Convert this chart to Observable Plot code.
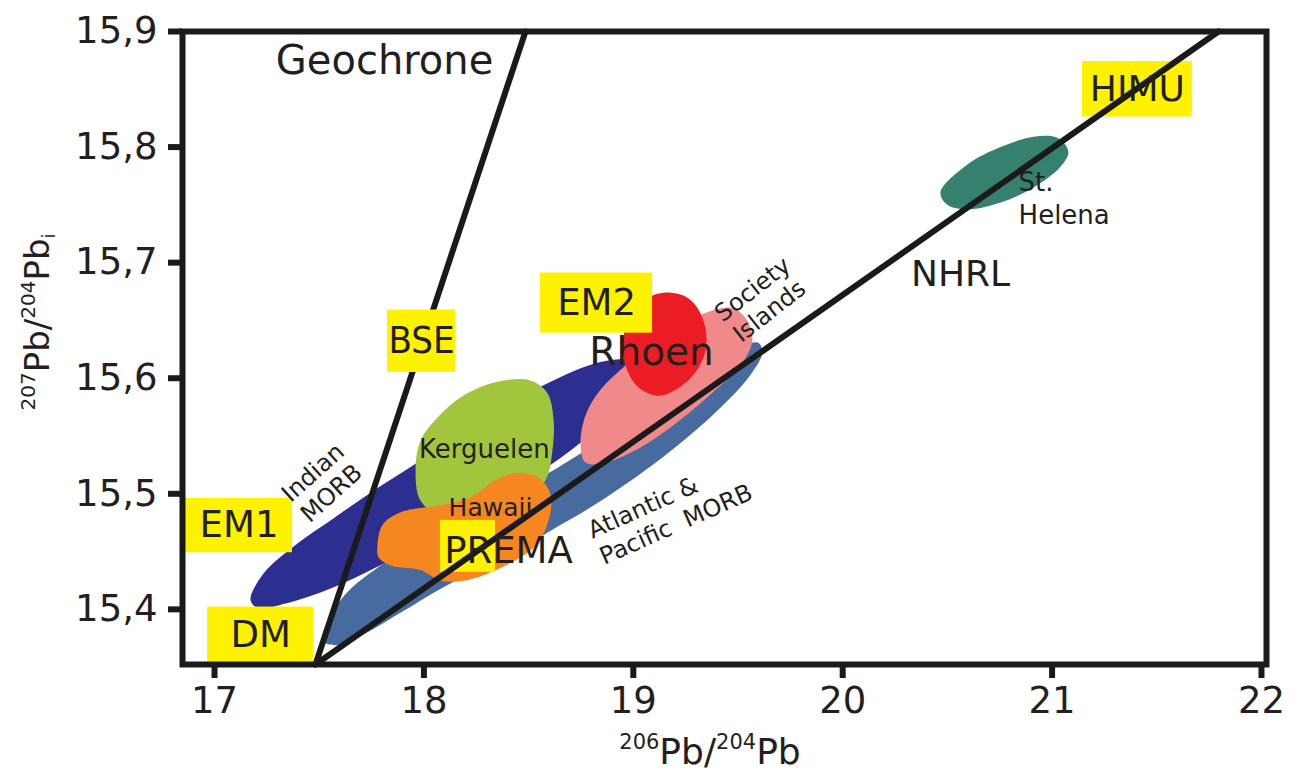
<!DOCTYPE html>
<html><head><meta charset="utf-8">
<script src="https://cdn.jsdelivr.net/npm/d3@7"></script>
<script src="https://cdn.jsdelivr.net/npm/@observablehq/plot@0.6"></script>
<style>body{margin:0;background:#fff;} #chart svg{display:block}</style>
</head><body><div id="chart"></div>
<script>
// ---- axis ticks ----
const xTicks = [17, 18, 19, 20, 21, 22];
const yTicks = [15.4, 15.5, 15.6, 15.7, 15.8, 15.9];

// ---- fields: outline points [206Pb/204Pb, 207Pb/204Pb] ----
const indianMORB = [[17.172,15.408],[17.234,15.431],[17.396,15.457],[17.554,15.477],[17.745,15.501],[17.969,15.527],[18.270,15.564],[18.571,15.594],[18.843,15.614],[19.011,15.616],[19.106,15.609],[19.082,15.594],[18.939,15.572],[18.652,15.531],[18.270,15.486],[17.888,15.447],[17.554,15.418],[17.339,15.405],[17.210,15.401]];
const atlanticPacificMORB = [[17.516,15.373],[17.602,15.408],[17.793,15.438],[18.127,15.473],[18.557,15.514],[18.843,15.546],[19.130,15.581],[19.416,15.616],[19.593,15.631],[19.617,15.623],[19.560,15.603],[19.402,15.572],[19.144,15.532],[18.829,15.492],[18.605,15.468],[18.366,15.442],[18.113,15.421],[17.888,15.397],[17.697,15.377],[17.578,15.369]];
const kerguelen = [[17.960,15.520],[17.984,15.546],[18.065,15.566],[18.189,15.585],[18.351,15.597],[18.509,15.598],[18.590,15.587],[18.619,15.564],[18.614,15.538],[18.581,15.512],[18.461,15.490],[18.270,15.481],[18.079,15.481],[17.984,15.494]];
const hawaii = [[17.778,15.455],[17.802,15.473],[17.888,15.484],[18.079,15.490],[18.223,15.497],[18.342,15.512],[18.437,15.518],[18.547,15.514],[18.605,15.499],[18.595,15.477],[18.533,15.455],[18.390,15.438],[18.199,15.425],[18.079,15.425],[17.984,15.434],[17.840,15.438],[17.783,15.445]];
const societyIslands = [[18.748,15.542],[18.772,15.568],[18.843,15.590],[18.963,15.611],[19.130,15.637],[19.321,15.655],[19.464,15.661],[19.536,15.652],[19.569,15.633],[19.512,15.611],[19.393,15.590],[19.225,15.564],[19.034,15.540],[18.867,15.527],[18.772,15.527]];
const rhoen = [[19.034,15.665],[19.144,15.674],[19.264,15.669],[19.335,15.650],[19.345,15.624],[19.273,15.600],[19.130,15.585],[19.025,15.592],[18.963,15.611],[18.953,15.637]];
const stHelena = [[20.467,15.761],[20.596,15.785],[20.754,15.800],[20.911,15.809],[21.026,15.808],[21.078,15.796],[21.040,15.783],[20.911,15.765],[20.754,15.752],[20.596,15.746],[20.500,15.750]];

// ---- reference lines ----
const geochrone = [[17.482,15.3523],[18.485,15.9]];
const nhrl = [[17.482,15.3523],[21.795,15.9]];

// ---- mantle reservoir label boxes ----
const reservoirs = ["EM1","DM","EM2","PREMA","HIMU","BSE"];
const boxX1 = [16.862,16.967,18.557,18.079,21.145,17.826];
const boxX2 = [17.372,17.473,19.092,18.342,21.670,18.151];
const boxY1 = [15.449,15.353,15.639,15.432,15.826,15.605];
const boxY2 = [15.496,15.402,15.691,15.477,15.874,15.659];

// ---- field labels ----
const fieldNames = ["Geochrone","NHRL","St.\nHelena","Rhoen","Kerguelen","Hawaii","PREMA","Indian\nMORB","Society\nIslands","Atlantic &\nPacific  MORB"];
const fieldLabelX = [17.812,20.563,20.840,19.087,18.289,18.318,18.404,17.511,19.607,18.815];
const fieldLabelY = [15.874,15.690,15.757,15.622,15.538,15.488,15.450,15.510,15.668,15.457];

const pts = a => a.map(([x, y]) => ({x, y}));
const boxes = reservoirs.map((name, i) => ({name, x1: boxX1[i], x2: boxX2[i], y1: boxY1[i], y2: boxY2[i]}));
const labels = fieldNames.map((text, i) => ({text, x: fieldLabelX[i], y: fieldLabelY[i]}));
const L = name => labels.filter(d => d.text === name);

const INK = "#231f20";
const FONT = "DejaVu Sans";
const YELLOW = "#fff200";

function field(data, color) {
  return Plot.line(pts(data), {x: "x", y: "y", curve: "catmull-rom-closed", fill: color, stroke: "none"});
}
const boxMark = sel => Plot.rect(boxes.filter(sel), {x1: "x1", x2: "x2", y1: "y1", y2: "y2", fill: YELLOW});
const boxText = (sel, opts) => Plot.text(boxes.filter(sel), {x: d => (d.x1 + d.x2) / 2, y: d => (d.y1 + d.y2) / 2, text: "name", fill: INK, fontFamily: FONT, ...opts});
const lbl = (name, opts) => Plot.text(L(name), {x: "x", y: "y", text: "text", fill: INK, fontFamily: FONT, ...opts});

const chart = Plot.plot({
  width: 1301,
  height: 776,
  marginLeft: 182,
  marginRight: 35,
  marginTop: 31,
  marginBottom: 112,
  style: {fontFamily: FONT, background: "#fff", color: INK},
  x: {domain: [16.847, 22.024], label: null},
  y: {domain: [15.3523, 15.9], label: null},
  marks: [
    field(indianMORB, "#2c2f8f"),
    field(atlanticPacificMORB, "#476b9f"),
    field(kerguelen, "#a1c63e"),
    field(hawaii, "#f6861f"),
    field(societyIslands, "#f08a8a"),
    field(rhoen, "#ec1c24"),
    field(stHelena, "#36806f"),
    boxMark(d => d.name !== "BSE"),
    Plot.line(pts(geochrone), {x: "x", y: "y", stroke: "#1a1a1a", strokeWidth: 6}),
    Plot.line(pts(nhrl), {x: "x", y: "y", stroke: "#1a1a1a", strokeWidth: 6}),
    boxMark(d => d.name === "BSE"),
    boxText(d => d.name === "BSE", {fontFamily: "'Liberation Sans Narrow', 'DejaVu Sans Condensed', 'Liberation Sans', sans-serif", fontSize: 38}),
    boxText(d => ["EM1","DM","EM2"].includes(d.name), {fontSize: 37}),
    boxText(d => d.name === "HIMU", {fontSize: 36}),
    lbl("Geochrone", {fontSize: 40}),
    lbl("NHRL", {fontSize: 36}),
    lbl("St.\nHelena", {fontSize: 26, textAnchor: "start", lineHeight: 1.3}),
    lbl("Rhoen", {fontSize: 39}),
    lbl("Kerguelen", {fontSize: 26}),
    lbl("Hawaii", {fontSize: 25}),
    lbl("PREMA", {fontSize: 37}),
    lbl("Indian\nMORB", {fontSize: 24, rotate: -42, lineHeight: 1.15}),
    lbl("Society\nIslands", {fontSize: 24, rotate: -38, lineHeight: 1.15}),
    lbl("Atlantic &\nPacific  MORB", {fontSize: 24, rotate: -24, textAnchor: "start", lineHeight: 1.2}),
    Plot.frame({stroke: "#1a1a1a", strokeWidth: 6}),
    Plot.axisX({ticks: xTicks, tickSize: 14, tickPadding: 8, strokeWidth: 6, stroke: "#1a1a1a", fill: INK, fontSize: 37, label: null, tickFormat: d => String(d)}),
    Plot.axisY({ticks: yTicks, tickSize: 14, tickPadding: 11, strokeWidth: 6, stroke: "#1a1a1a", fill: INK, fontSize: 37, label: null, tickFormat: d => d.toFixed(1).replace(".", ",")})
  ]
});

document.getElementById("chart").appendChild(chart);

// axis titles with real superscripts/subscripts
const svg = d3.select(chart);
const xl = svg.append("text").attr("x", 710).attr("y", 764).attr("text-anchor", "middle")
  .attr("fill", INK).attr("font-family", FONT);
xl.append("tspan").text("206").attr("font-size", 21).attr("dy", -15);
xl.append("tspan").text("Pb/").attr("font-size", 36).attr("dy", 15);
xl.append("tspan").text("204").attr("font-size", 21).attr("dy", -15);
xl.append("tspan").text("Pb").attr("font-size", 36).attr("dy", 15);

const yl = svg.append("text").attr("transform", "translate(49,322) rotate(-90)").attr("text-anchor", "middle")
  .attr("fill", INK).attr("font-family", FONT);
yl.append("tspan").text("207").attr("font-size", 20).attr("dy", -14);
yl.append("tspan").text("Pb/").attr("font-size", 34).attr("dy", 14);
yl.append("tspan").text("204").attr("font-size", 20).attr("dy", -14);
yl.append("tspan").text("Pb").attr("font-size", 34).attr("dy", 14);
yl.append("tspan").text("i").attr("font-size", 18).attr("dy", 6);
</script>
</body></html>
